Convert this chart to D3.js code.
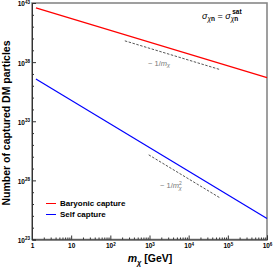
<!DOCTYPE html>
<html>
<head>
<meta charset="utf-8">
<script src="https://cdn.jsdelivr.net/npm/d3@7"></script>
<style>
  body { margin: 0; background: #fff; }
  text { font-family: "Liberation Sans", Arial, sans-serif; }
</style>
</head>
<body>
<div id="chart"></div>
<script>
// data (log10 values)
var massRange = [0.1, 6];                 // log10 m_chi where curves run
var baryonicLogN = [42.69, 36.69];        // log10 N at m=10^0 and 10^6 (~1/m)
var selfLogN = [36.78, 24.78];            // ~1/m^2
var guideBaryonic = {m: [2.37, 4.8], logN: [39.8, 37.37]};
var guideSelf = {m: [2.98, 4.8], logN: [30.16, 26.52]};
var yMajor = [23, 28, 33, 38, 43];
var xMajor = [0, 1, 2, 3, 4, 5, 6];
var legendNames = ["Baryonic capture", "Self capture"];
var colors = ["#ff0000", "#0000ff"];

var width = 273, height = 267;
var x0 = 32, x1 = 267, y0 = 239.5, y1 = 3;

var svg = d3.select("#chart").append("svg")
  .attr("width", width)
  .attr("height", height);

var x = d3.scaleLog().domain([1, 1e6]).range([x0, x1]);
var y = d3.scaleLog().domain([1e23, 1e43]).range([y0, y1]);

function linePts(lm, ln) {
  // straight power law in log-log, between two end points
  return [[Math.pow(10, lm[0]), Math.pow(10, ln[0])], [Math.pow(10, lm[1]), Math.pow(10, ln[1])]];
}
function logAt(ends, m) {
  return ends[0] + (ends[1] - ends[0]) * (m - 0) / 6;
}

var line = d3.line()
  .x(function(d) { return x(d[0]); })
  .y(function(d) { return y(d[1]); });

// frame
svg.append("rect")
  .attr("x", x0).attr("y", y1)
  .attr("width", x1 - x0).attr("height", y0 - y1)
  .attr("fill", "none")
  .attr("stroke", "#888")
  .attr("stroke-width", 1.6);

// curves
var curves = [
  [[Math.pow(10, massRange[0]), Math.pow(10, logAt(baryonicLogN, massRange[0]))],
   [Math.pow(10, massRange[1]), Math.pow(10, logAt(baryonicLogN, massRange[1]))]],
  [[Math.pow(10, massRange[0]), Math.pow(10, logAt(selfLogN, massRange[0]))],
   [Math.pow(10, massRange[1]), Math.pow(10, logAt(selfLogN, massRange[1]))]]
];
svg.selectAll(".curve").data(curves).enter().append("path")
  .attr("class", "curve")
  .attr("d", line)
  .attr("fill", "none")
  .attr("stroke", function(d, i) { return colors[i]; })
  .attr("stroke-width", 1.2);

// guide lines
[guideBaryonic, guideSelf].forEach(function(g) {
  svg.append("path")
    .attr("d", line(linePts(g.m, g.logN)))
    .attr("fill", "none")
    .attr("stroke", "#555")
    .attr("stroke-width", 1)
    .attr("stroke-dasharray", "2.5,1.5");
});

// guide labels
var g1 = svg.append("text").attr("x", 148).attr("y", 65.5)
  .attr("font-size", 7.5).attr("fill", "#777");
g1.append("tspan").text("~ 1/");
g1.append("tspan").attr("font-style", "italic").text("m");
g1.append("tspan").attr("font-style", "italic").attr("font-size", 5.5).attr("dy", 1.5).text("χ");

var g2 = svg.append("text").attr("x", 160).attr("y", 188)
  .attr("font-size", 7.5).attr("fill", "#777");
g2.append("tspan").text("~ 1/");
g2.append("tspan").attr("font-style", "italic").text("m");
g2.append("tspan").attr("font-size", 5).attr("dy", -3.5).text("2");
g2.append("tspan").attr("font-style", "italic").attr("font-size", 5.5).attr("dx", -3).attr("dy", 5).text("χ");

// annotation
var ann = svg.append("text").attr("x", 202).attr("y", 19)
  .attr("font-size", 9).attr("fill", "#000");
ann.append("tspan").attr("font-style", "italic").text("σ");
ann.append("tspan").attr("font-style", "italic").attr("font-size", 6.5).attr("dy", 2).text("χ");
ann.append("tspan").attr("font-size", 6.5).attr("font-weight", "bold").text("n");
ann.append("tspan").attr("dy", -2).text(" = ");
ann.append("tspan").attr("font-style", "italic").text("σ");
ann.append("tspan").attr("font-style", "italic").attr("font-size", 6.5).attr("dy", 2).text("χ");
ann.append("tspan").attr("font-size", 6.5).attr("font-weight", "bold").text("n");
ann.append("tspan").attr("font-size", 6.5).attr("font-weight", "bold").attr("dx", -6).attr("dy", -7).text("sat");

// axes with inward ticks
var xMinor = [];
xMajor.slice(0, -1).forEach(function(p) {
  for (var k = 2; k < 10; k++) xMinor.push(k * Math.pow(10, p));
});
svg.append("g")
  .attr("transform", "translate(0," + y0 + ")")
  .call(d3.axisBottom(x).tickValues(xMinor).tickSize(-2).tickFormat(""))
  .call(function(g) { g.select(".domain").remove(); g.selectAll("line").attr("stroke", "#333"); });
var xAxis = svg.append("g")
  .attr("transform", "translate(0," + y0 + ")")
  .call(d3.axisBottom(x).tickValues(xMajor.map(function(p) { return Math.pow(10, p); }))
    .tickSize(-4).tickPadding(4).tickFormat(""));
xAxis.select(".domain").attr("stroke", "#333");
xAxis.selectAll("line").attr("stroke", "#333");
xAxis.selectAll(".tick text").each(function(d) {
  var t = d3.select(this).attr("font-size", 6.5).attr("font-weight", "bold")
    .attr("fill", "#000").attr("dy", "0.71em").attr("y", 4);
  var p = Math.round(Math.log10(d));
  if (p === 0) t.text("1");
  else if (p === 1) t.text("10");
  else {
    t.append("tspan").text("10");
    t.append("tspan").attr("font-size", 4.5).attr("dy", -2.5).text(p);
  }
});

var yMinor = d3.range(23, 44).filter(function(p) { return yMajor.indexOf(p) < 0; })
  .map(function(p) { return Math.pow(10, p); });
svg.append("g")
  .attr("transform", "translate(" + x0 + ",0)")
  .call(d3.axisLeft(y).tickValues(yMinor).tickSize(-2).tickFormat(""))
  .call(function(g) { g.select(".domain").remove(); g.selectAll("line").attr("stroke", "#333"); });
var yAxis = svg.append("g")
  .attr("transform", "translate(" + x0 + ",0)")
  .call(d3.axisLeft(y).tickValues(yMajor.map(function(p) { return Math.pow(10, p); }))
    .tickSize(-4).tickPadding(2).tickFormat(""));
yAxis.select(".domain").attr("stroke", "#333");
yAxis.selectAll("line").attr("stroke", "#333");
yAxis.selectAll(".tick text").each(function(d) {
  var t = d3.select(this).attr("font-size", 6.5).attr("font-weight", "bold")
    .attr("fill", "#000").attr("x", -2).attr("dy", "0.45em");
  t.append("tspan").text("10");
  t.append("tspan").attr("font-size", 4.5).attr("dy", -2.5).text(Math.round(Math.log10(d)));
});

// axis titles
var xt = svg.append("text").attr("x", 150).attr("y", 262)
  .attr("text-anchor", "middle").attr("font-size", 10.5).attr("font-weight", "bold");
xt.append("tspan").attr("font-style", "italic").text("m");
xt.append("tspan").attr("font-style", "italic").attr("font-size", 7.5).attr("dy", 2.5).text("χ");
xt.append("tspan").attr("dy", -2.5).text(" [GeV]");

svg.append("text")
  .attr("transform", "translate(9.5,123) rotate(-90)")
  .attr("text-anchor", "middle")
  .attr("font-size", 10.5).attr("font-weight", "bold")
  .text("Number of captured DM particles");

// legend
var leg = svg.selectAll(".leg").data(legendNames).enter().append("g")
  .attr("class", "leg")
  .attr("transform", function(d, i) { return "translate(46," + (203.5 + i * 11) + ")"; });
leg.append("line").attr("x1", 0).attr("x2", 10)
  .attr("stroke", function(d, i) { return colors[i]; }).attr("stroke-width", 1);
leg.append("text").attr("x", 14).attr("dy", "0.35em")
  .attr("font-size", 8).attr("font-weight", "bold").text(function(d) { return d; });
</script>
</body>
</html>
